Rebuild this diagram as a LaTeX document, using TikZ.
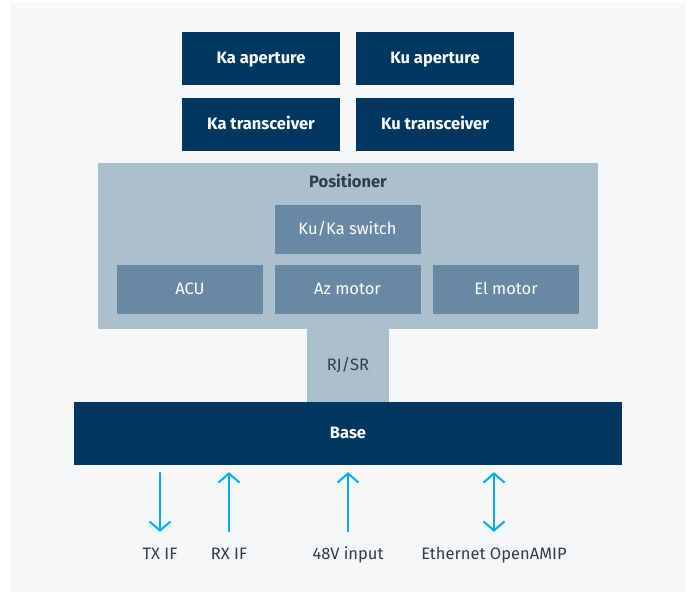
\documentclass[tikz,border=0pt]{standalone}
\usepackage{fontspec}
\setmainfont{Fira Sans}
\usetikzlibrary{arrows.meta}
\definecolor{navy}{HTML}{003660}
\definecolor{steel}{HTML}{6888A3}
\definecolor{pale}{HTML}{ABBFCC}
\definecolor{bgray}{HTML}{F5F7F9}
\definecolor{ink}{HTML}{2E3E4C}
\definecolor{cyanarrow}{HTML}{00AEEF}

\begin{document}
\begin{tikzpicture}[x=1pt, y=-1pt,
  barb/.tip={Straight Barb[length=9pt,width=21pt]},
  every node/.style={inner sep=0pt, text height=9pt, text depth=0pt, font=\fontsize{16.5}{19}\selectfont},
  navybox/.style={fill=navy, text=white, font=\fontsize{16.5}{19}\selectfont\bfseries},
  steelbox/.style={fill=steel, text=white, minimum width=146pt, minimum height=49pt},
  palebox/.style={fill=pale, text=ink},
  sig/.style={draw=cyanarrow, line width=2pt},
  iolabel/.style={text=ink, anchor=base}]
	\useasboundingbox (0,0) rectangle (689,592);
	\fill [bgray] (11,3) rectangle (685,592);
	% top row
	\node [navybox, minimum width=158pt, minimum height=53pt] (kaap) at (261,58.5) {Ka aperture};
	\node [navybox, minimum width=158pt, minimum height=53pt] (kuap) at (435,58.5) {Ku aperture};
	\node [navybox, minimum width=158pt, minimum height=53pt] (katr) at (261,124.5) {Ka transceiver};
	\node [navybox, minimum width=158pt, minimum height=53pt] (kutr) at (435,124.5) {Ku transceiver};
	% positioner
	\node [palebox, minimum width=500pt, minimum height=166pt] (pos) at (348,246) {};
	\node [text=ink, font=\fontsize{16.5}{19}\selectfont\bfseries] (postitle) at (348,183) {Positioner};
	\node [steelbox] (sw) at (347.5,229.5) {Ku/Ka switch};
	\node [steelbox] (acu) at (190,289.5) {ACU};
	\node [steelbox] (az) at (347.5,289.5) {Az motor};
	\node [steelbox] (el) at (506,289.5) {El motor};
	% link and base
	\node [palebox, minimum width=82pt, minimum height=73pt] (rjsr) at (348,365.5) {RJ/SR};
	\node [navybox, minimum width=548pt, minimum height=63pt] (base) at (348,433.5) {Base};
	% interfaces
	\node [iolabel] (tx) at (160,559) {TX IF};
	\node [iolabel] (rx) at (229,559) {RX IF};
	\node [iolabel] (pwr) at (348,559) {48V input};
	\node [iolabel] (eth) at (494,559) {Ethernet OpenAMIP};
	\draw [sig, -barb] ([yshift=-7pt]base.south -| tx) -- ([yshift=18pt]tx.north);
	\draw [sig, barb-] ([yshift=-7pt]base.south -| rx) -- ([yshift=18pt]rx.north);
	\draw [sig, barb-] ([yshift=-7pt]base.south -| pwr) -- ([yshift=18pt]pwr.north);
	\draw [sig, barb-barb] ([yshift=-7pt]base.south -| eth) -- ([yshift=18pt]eth.north);
\end{tikzpicture}
\end{document}
